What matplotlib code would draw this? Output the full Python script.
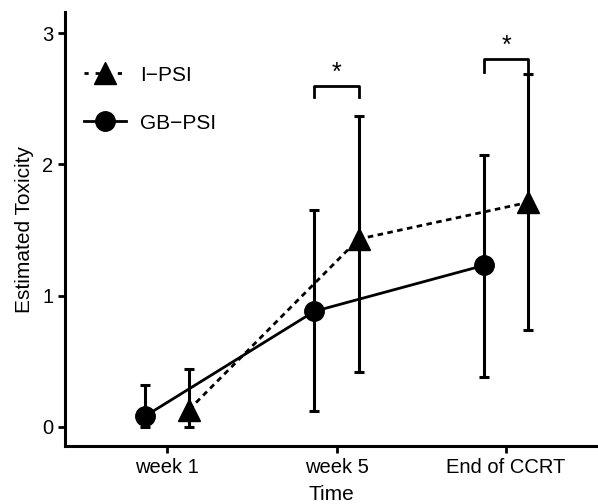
import matplotlib.pyplot as plt
from matplotlib.lines import Line2D

plt.rcParams['font.family'] = ['Liberation Sans', 'DejaVu Sans']

# data
times = ['week 1', 'week 5', 'End of CCRT']
gb_mean = [0.08, 0.88, 1.23]
gb_low = [0.0, 0.12, 0.38]
gb_high = [0.32, 1.65, 2.07]
i_mean = [0.13, 1.43, 1.71]
i_low = [0.0, 0.42, 0.74]
i_high = [0.44, 2.37, 2.69]

# significance brackets: (time index, bracket height, tick bottom)
brackets = [(1, 2.60, 2.51), (2, 2.80, 2.70)]

dodge = 0.13
x = [1, 2, 3]
x_gb = [v - dodge for v in x]
x_i = [v + dodge for v in x]

fig = plt.figure(figsize=(5.98, 5.04), dpi=100)
ax = fig.add_axes([0.109, 0.115, 0.889, 0.861])

lw = 2.2
# error bars
ax.errorbar(x_gb, gb_mean,
            yerr=[[m - l for m, l in zip(gb_mean, gb_low)], [h - m for m, h in zip(gb_mean, gb_high)]],
            fmt='none', ecolor='black', elinewidth=lw, capsize=3.5, capthick=lw)
ax.errorbar(x_i, i_mean,
            yerr=[[m - l for m, l in zip(i_mean, i_low)], [h - m for m, h in zip(i_mean, i_high)]],
            fmt='none', ecolor='black', elinewidth=lw, capsize=3.5, capthick=lw)

ax.plot(x_gb, gb_mean, color='black', lw=2.0, marker='o', markersize=14)
ax.plot(x_i, i_mean, color='black', lw=2.0, ls=(0, (2.0, 1.6)), marker='^', markersize=16)

for idx, top, bot in brackets:
    xl, xr = x_gb[idx], x_i[idx]
    ax.plot([xl, xl, xr, xr], [bot, top, top, bot], color='black', lw=2.0)
    ax.text((xl + xr) / 2, top + 0.1, '*', ha='center', va='center', fontsize=18)

ax.set_xlim(0.4, 3.535)
ax.set_ylim(-0.147, 3.16)
ax.set_xticks(x)
ax.set_xticklabels(times)
ax.set_yticks([0, 1, 2, 3])
ax.set_xlabel('Time', fontsize=15, labelpad=6)
ax.set_ylabel('Estimated Toxicity', fontsize=15, labelpad=6)
ax.tick_params(labelsize=14.5, width=2, length=5, color='black')

for s in ['top', 'right']:
    ax.spines[s].set_visible(False)
for s in ['left', 'bottom']:
    ax.spines[s].set_linewidth(2.2)

handles = [
    Line2D([], [], color='black', lw=2.0, ls=(0, (1.5, 2.5)), marker='^', markersize=16),
    Line2D([], [], color='black', lw=2.0, marker='o', markersize=14),
]
ax.legend(handles, ['I\u2212PSI', 'GB\u2212PSI'], loc='upper left', frameon=False,
          fontsize=15, handlelength=2.0, labelspacing=1.4, handletextpad=0.7,
          bbox_to_anchor=(0.0, 0.92))

fig.savefig('out.png', dpi=100)
